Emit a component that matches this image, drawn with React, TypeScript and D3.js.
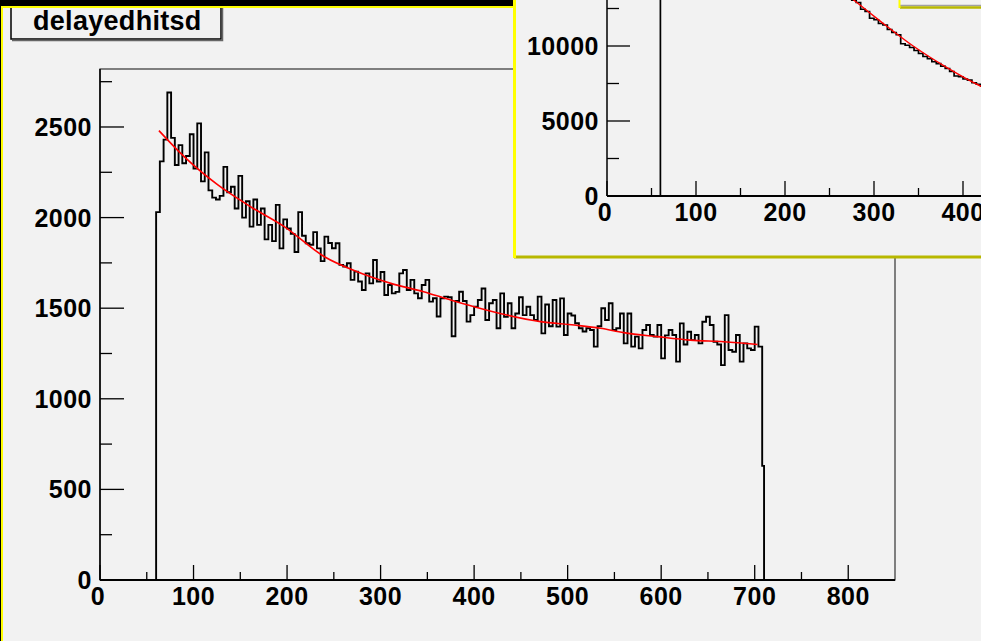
import React, { useEffect, useRef } from 'react';
import * as d3 from 'd3';

// main histogram "delayedhitsd" : 4-wide bins from 60
const binStart = 60
const binWidth = 4
const counts = [
  2030, 2310, 2430, 2690, 2440, 2290, 2400, 2300, 2340, 2460,
  2270, 2520, 2200, 2360, 2150, 2110, 2100, 2120, 2280, 2140,
  2170, 2050, 2230, 2000, 2090, 1950, 2100, 1960, 2050, 1880,
  1960, 1870, 2070, 1830, 1990, 1940, 1910, 1810, 2030,
  1900, 1858, 1850, 1920, 1830, 1760, 1895, 1860, 1831, 1858,
  1739, 1730, 1748, 1656, 1702, 1647, 1600, 1692, 1637, 1766,
  1647, 1700, 1573, 1628, 1582, 1590, 1692, 1711, 1600, 1656,
  1582, 1555, 1628, 1656, 1536, 1555, 1454, 1555, 1564,
  1560, 1345, 1540, 1591, 1540, 1426, 1462, 1508, 1545, 1609,
  1435, 1527, 1545, 1389, 1582, 1453, 1527, 1389, 1471, 1560,
  1462, 1508, 1462, 1435, 1564, 1361, 1520, 1400, 1545, 1398,
  1554, 1352, 1471, 1460, 1417, 1389, 1371, 1389, 1380, 1288,
  1400, 1500, 1435, 1527, 1380, 1389, 1471, 1306, 1471, 1288,
  1343, 1278, 1380, 1407, 1352, 1343, 1407, 1223, 1350, 1380,
  1352, 1205, 1416, 1300, 1370, 1324, 1352, 1306, 1425, 1453,
  1407, 1315, 1300, 1186, 1462, 1269, 1260, 1352, 1205, 1306,
  1278, 1269, 1398, 1288
]
const tailBin = { x0: 708, x1: 710, count: 630 }

// red fit
const fitX = [63, 90, 126, 161, 197, 240, 275, 311, 346, 375, 400, 435, 471, 507, 535, 560, 596, 631, 667, 703]
const fitY = [2480, 2336, 2180, 2060, 1950, 1784, 1701, 1637, 1591, 1545, 1508, 1462, 1426, 1407, 1389, 1365, 1343, 1324, 1315, 1300]

const xTicks = [0, 100, 200, 300, 400, 500, 600, 700, 800]
const xMinor = [50, 150, 250, 350, 450, 550, 650, 750]
const yTicks = [0, 500, 1000, 1500, 2000, 2500]
const yMinor = [250, 750, 1250, 1750, 2250, 2750]

// inset histogram (top right pad), 5-wide bins from 60
const insetStart = 60
const insetWidth = 5
const insetCounts = [
  30500, 29600, 28900, 28200, 27400, 26800, 26100, 25500, 24900, 24300,
  23700, 23200, 22600, 22100, 21600, 21100, 20600, 20200, 19700, 19300,
  18900, 18500, 18100, 17700, 17400, 17000, 16700, 16400, 16100, 15800,
  15500, 15200, 15000, 14700, 14500, 14300, 14100, 13900, 13700, 13600,
  13400, 13300, 13150, 13050, 12900, 12450, 12300, 11850, 11750, 11500,
  11400, 11100, 10900, 10750, 10150, 10050, 9900, 9700, 9500, 9300,
  9150, 8950, 8820, 8650, 8500, 8300, 8000, 7950, 7800, 7720,
  7550, 7450, 7320, 7200
]
const insetFitX = [250, 279, 307, 344, 382, 419, 440]
const insetFitY = [14400, 12980, 11660, 10000, 8560, 7350, 6800]

const insetXTicks = [0, 100, 200, 300, 400]
const insetXMinor = [50, 150, 250, 350, 450]
const insetYTicks = [0, 5000, 10000]
const insetYMinor = [2500, 7500, 12500]

const title = 'delayedhitsd'

const font = '"Liberation Sans", Arial, sans-serif'
const padFill = '#f2f2f2'

function stepPoints(start, width, values, tail) {
  const pts = [[start, 0]]
  values.forEach((v, i) => pts.push([start + i * width, v]))
  let end = start + values.length * width
  if (tail) {
    pts.push([tail.x0, tail.count])
    end = tail.x1
    pts.push([end, tail.count])
  } else {
    pts.push([end, values[values.length - 1]])
  }
  pts.push([end, 0])
  return pts
}

function drawAxes(g, x, y, o) {
  const x0 = x.range()[0], y0 = y.range()[0]
  // y ticks grow to the right, x ticks grow upward
  g.selectAll(null).data(o.yTicks).join('line')
    .attr('x1', x0).attr('x2', x0 + o.yMaj).attr('y1', d => y(d)).attr('y2', d => y(d))
    .attr('stroke', '#000').attr('stroke-width', 1.3)
  g.selectAll(null).data(o.yMinor).join('line')
    .attr('x1', x0).attr('x2', x0 + o.yMin).attr('y1', d => y(d)).attr('y2', d => y(d))
    .attr('stroke', '#000').attr('stroke-width', 1.3)
  g.selectAll(null).data(o.xTicks).join('line')
    .attr('x1', d => x(d)).attr('x2', d => x(d)).attr('y1', y0).attr('y2', y0 - o.xMaj)
    .attr('stroke', '#000').attr('stroke-width', 1.3)
  g.selectAll(null).data(o.xMinor).join('line')
    .attr('x1', d => x(d)).attr('x2', d => x(d)).attr('y1', y0).attr('y2', y0 - o.xMin)
    .attr('stroke', '#000').attr('stroke-width', 1.3)

  g.append('line').attr('x1', x0).attr('x2', x0).attr('y1', y0).attr('y2', o.top)
    .attr('stroke', '#000').attr('stroke-width', 1.5)
  g.append('line').attr('x1', x0).attr('x2', o.right).attr('y1', y0).attr('y2', y0)
    .attr('stroke', '#000').attr('stroke-width', 2)

  g.selectAll(null).data(o.yTicks).join('text')
    .attr('x', x0 - 8).attr('y', d => y(d)).attr('dy', '0.36em')
    .attr('text-anchor', 'end')
    .style('font-family', font).style('font-weight', 'bold').style('font-size', '25px')
    .style('letter-spacing', '0.5px')
    .text(d => d)
  g.selectAll(null).data(o.xTicks).join('text')
    .attr('x', d => x(d) - (d === 0 ? 2 : 0)).attr('y', y0 + 25)
    .attr('text-anchor', 'middle')
    .style('font-family', font).style('font-weight', 'bold').style('font-size', '25px')
    .style('letter-spacing', '0.5px')
    .text(d => d)
}

const App = () => {
  const svgRef = useRef(null)

  useEffect(() => {
    const svg = d3.select(svgRef.current)
    svg.selectAll('*').remove()

    // canvas background + main pad
    svg.append('rect').attr('width', 981).attr('height', 641).attr('fill', '#000')
    svg.append('rect').attr('x', 1).attr('y', 6).attr('width', 990).attr('height', 650).attr('fill', padFill)
    svg.append('line').attr('x1', 2).attr('x2', 2).attr('y1', 6).attr('y2', 641).attr('stroke', '#ffff00').attr('stroke-width', 2)

    // title box
    svg.append('rect').attr('x', 11).attr('y', 2).attr('width', 210).attr('height', 37)
      .attr('fill', padFill).attr('stroke', '#000').attr('stroke-width', 1.5)
    svg.append('path').attr('d', 'M12,40.5H222.5V8').attr('fill', 'none').attr('stroke', '#666').attr('stroke-width', 1.5)
    svg.append('text').attr('x', 33).attr('y', 30)
      .style('font-family', font).style('font-weight', 'bold').style('font-size', '27px')
      .style('letter-spacing', '0.3px')
      .text(title)
    svg.append('rect').attr('x', 0).attr('y', 0).attr('width', 981).attr('height', 6).attr('fill', '#000')
    svg.append('line').attr('x1', 1).attr('x2', 981).attr('y1', 7).attr('y2', 7).attr('stroke', '#ffff00').attr('stroke-width', 2)

    // main frame
    const x = d3.scaleLinear().domain([0, 850]).range([100, 895])
    const y = d3.scaleLinear().domain([0, 2820]).range([580, 69])

    svg.append('rect').attr('x', x(0)).attr('y', y(2820)).attr('width', x(850) - x(0)).attr('height', y(0) - y(2820))
      .attr('fill', 'none').attr('stroke', '#333').attr('stroke-width', 1.2)

    const line = d3.line().x(d => x(d[0])).y(d => y(d[1])).curve(d3.curveStepAfter)
    svg.append('path').attr('d', line(stepPoints(binStart, binWidth, counts, tailBin)))
      .attr('fill', 'none').attr('stroke', '#000').attr('stroke-width', 1.9)

    const fitLine = d3.line().x(d => x(d[0])).y(d => y(d[1])).curve(d3.curveMonotoneX)
    svg.append('path').attr('d', fitLine(fitX.map((v, i) => [v, fitY[i]])))
      .attr('fill', 'none').attr('stroke', '#ff0000').attr('stroke-width', 1.6)

    drawAxes(svg.append('g'), x, y, {
      xTicks, xMinor, yTicks, yMinor, yMaj: 24, yMin: 12, xMaj: 15, xMin: 8, top: 69, right: 895
    })

    // inset pad
    const inset = svg.append('g')
    svg.append('clipPath').attr('id', 'insetClip').append('rect')
      .attr('x', 516).attr('y', 0).attr('width', 465).attr('height', 255)
    inset.append('rect').attr('x', 514).attr('y', 0).attr('width', 467).attr('height', 258).attr('fill', padFill)
    const ig = inset.append('g').attr('clip-path', 'url(#insetClip)')
    const ix = d3.scaleLinear().domain([0, 500]).range([607, 1052])
    const iy = d3.scaleLinear().domain([0, 10000]).range([196, 46])

    const iline = d3.line().x(d => ix(d[0])).y(d => iy(d[1])).curve(d3.curveStepAfter)
    ig.append('path').attr('d', iline(stepPoints(insetStart, insetWidth, insetCounts, null)))
      .attr('fill', 'none').attr('stroke', '#000').attr('stroke-width', 1.7)
    const ifit = d3.line().x(d => ix(d[0])).y(d => iy(d[1])).curve(d3.curveMonotoneX)
    ig.append('path').attr('d', ifit(insetFitX.map((v, i) => [v, insetFitY[i]])))
      .attr('fill', 'none').attr('stroke', '#ff0000').attr('stroke-width', 1.4)

    drawAxes(ig, ix, iy, {
      xTicks: insetXTicks, xMinor: insetXMinor, yTicks: insetYTicks, yMinor: insetYMinor,
      yMaj: 23, yMin: 12, xMaj: 15, xMin: 8, top: -40, right: 1052
    })

    // small box peeking at the top right of the inset
    ig.append('rect').attr('x', 899).attr('y', -10).attr('width', 90).attr('height', 16).attr('fill', padFill)
    ig.append('line').attr('x1', 900).attr('x2', 981).attr('y1', 5.5).attr('y2', 5.5).attr('stroke', '#a0a0a0').attr('stroke-width', 1.5)
    ig.append('line').attr('x1', 900).attr('x2', 981).attr('y1', 7.5).attr('y2', 7.5).attr('stroke', '#b8b800').attr('stroke-width', 2.5)
    ig.append('line').attr('x1', 899.5).attr('x2', 899.5).attr('y1', 0).attr('y2', 8).attr('stroke', '#ffff00').attr('stroke-width', 2)

    // inset bevel borders
    inset.append('line').attr('x1', 514).attr('x2', 981).attr('y1', 257).attr('y2', 257).attr('stroke', '#b8b800').attr('stroke-width', 3)
    inset.append('line').attr('x1', 514.5).attr('x2', 514.5).attr('y1', 0).attr('y2', 258).attr('stroke', '#ffff00').attr('stroke-width', 3)
  }, [])

  return (
    <svg ref={svgRef} width={981} height={641}
      style={{ position: 'absolute', left: 0, top: 0, display: 'block' }} />
  )
}

export default App
